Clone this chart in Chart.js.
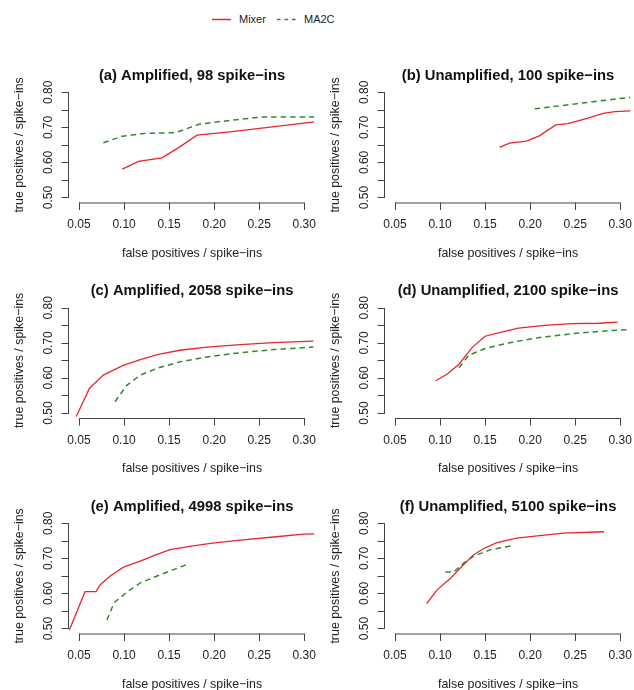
<!DOCTYPE html>
<html>
<head>
<meta charset="utf-8">
<script src="https://cdn.jsdelivr.net/npm/chart.js@4.4.0/dist/chart.umd.min.js"></script>
<style>
  body { margin: 0; background: #fff; }
  #page { position: relative; width: 634px; height: 690px; overflow: hidden;
          font-family: "Liberation Sans", Arial, Helvetica, sans-serif; color: #222; }
  #page canvas { position: absolute; top: 0; }
  .lg { position: absolute; font-size: 11px; line-height: 12px; top: 13px; }
</style>
</head>
<body>
<div id="page">
  <svg style="position:absolute;left:212px;top:17px" width="19" height="5">
    <line x1="0" y1="2.5" x2="19" y2="2.5" stroke="#e8262b" stroke-width="1.5"/>
  </svg>
  <span class="lg" style="left:239px">Mixer</span>
  <svg style="position:absolute;left:277px;top:17px" width="20" height="5">
    <line x1="0" y1="2.5" x2="20" y2="2.5" stroke="#2f8a2f" stroke-width="1.5" stroke-dasharray="3.5 4"/>
  </svg>
  <span class="lg" style="left:304px">MA2C</span>
</div>
<script>
// tick values shared by every panel
const xTicks = [0.05, 0.10, 0.15, 0.20, 0.25, 0.30];
const yTicks = [0.50, 0.55, 0.60, 0.65, 0.70, 0.75, 0.80];
const yTickLabels = [0.50, 0.60, 0.70, 0.80];

const panelTitles = [
  '(a) Amplified, 98 spike\u2212ins',
  '(b) Unamplified, 100 spike\u2212ins',
  '(c) Amplified, 2058 spike\u2212ins',
  '(d) Unamplified, 2100 spike\u2212ins',
  '(e) Amplified, 4998 spike\u2212ins',
  '(f) Unamplified, 5100 spike\u2212ins'
];

// (a)
const fpMixerA = [0.098, 0.116, 0.142, 0.161, 0.181, 0.22, 0.26, 0.311];
const tpMixerA = [0.581, 0.603, 0.613, 0.643, 0.678, 0.688, 0.700, 0.716];
const fpMa2cA = [0.077, 0.098, 0.124, 0.157, 0.167, 0.183, 0.197, 0.254, 0.311];
const tpMa2cA = [0.656, 0.675, 0.683, 0.685, 0.694, 0.709, 0.714, 0.730, 0.730];
// (b)
const fpMixerB = [0.166, 0.177, 0.196, 0.210, 0.2285, 0.242, 0.263, 0.281, 0.294, 0.311];
const tpMixerB = [0.643, 0.655, 0.661, 0.676, 0.707, 0.711, 0.726, 0.740, 0.745, 0.747];
const fpMa2cB = [0.205, 0.25, 0.311];
const tpMa2cB = [0.753, 0.767, 0.786];
// (c)
const fpMixerC = [0.047, 0.0615, 0.077, 0.099, 0.118, 0.138, 0.162, 0.192, 0.229, 0.266, 0.310];
const tpMixerC = [0.490, 0.570, 0.608, 0.636, 0.652, 0.667, 0.679, 0.688, 0.695, 0.701, 0.705];
const fpMa2cC = [0.090, 0.103, 0.118, 0.136, 0.162, 0.192, 0.229, 0.266, 0.310];
const tpMa2cC = [0.532, 0.579, 0.608, 0.627, 0.646, 0.660, 0.672, 0.681, 0.688];
// (d)
const fpMixerD = [0.095, 0.108, 0.121, 0.136, 0.150, 0.168, 0.187, 0.216, 0.246, 0.276, 0.297];
const tpMixerD = [0.592, 0.611, 0.639, 0.688, 0.719, 0.731, 0.742, 0.750, 0.755, 0.756, 0.759];
const fpMa2cD = [0.121, 0.132, 0.150, 0.180, 0.209, 0.246, 0.276, 0.311];
const tpMa2cD = [0.629, 0.665, 0.684, 0.702, 0.715, 0.726, 0.733, 0.738];
// (e)
const fpMixerE = [0.0393, 0.0567, 0.0689, 0.0733, 0.0844, 0.0993, 0.118, 0.133, 0.151, 0.173, 0.196, 0.229, 0.266, 0.299, 0.311];
const tpMixerE = [0.496, 0.605, 0.605, 0.624, 0.649, 0.675, 0.692, 0.708, 0.725, 0.734, 0.743, 0.752, 0.761, 0.769, 0.770];
const fpMa2cE = [0.081, 0.089, 0.096, 0.103, 0.118, 0.136, 0.155, 0.171];
const tpMa2cE = [0.524, 0.574, 0.588, 0.604, 0.630, 0.649, 0.668, 0.684];
// (f)
const fpMixerF = [0.085, 0.097, 0.112, 0.126, 0.137, 0.149, 0.163, 0.185, 0.208, 0.237, 0.282];
const tpMixerF = [0.571, 0.611, 0.644, 0.682, 0.710, 0.729, 0.745, 0.758, 0.764, 0.772, 0.776];
const fpMa2cF = [0.106, 0.115, 0.126, 0.137, 0.156, 0.180];
const tpMa2cF = [0.661, 0.661, 0.686, 0.706, 0.725, 0.736];

const panels = [
  [fpMixerA, tpMixerA, fpMa2cA, tpMa2cA],
  [fpMixerB, tpMixerB, fpMa2cB, tpMa2cB],
  [fpMixerC, tpMixerC, fpMa2cC, tpMa2cC],
  [fpMixerD, tpMixerD, fpMa2cD, tpMa2cD],
  [fpMixerE, tpMixerE, fpMa2cE, tpMa2cE],
  [fpMixerF, tpMixerF, fpMa2cF, tpMa2cF]
];

const RED = '#e8262b';
const GREEN = '#2f8a2f';
const AXIS = '#444';
const FONT = '"Liberation Sans", Arial, Helvetica, sans-serif';
const rowOffset = [0, 215.5, 431];
const colLeft = [0, 316];

function pts(xs, ys) {
  return xs.map((v, i) => ({ x: v, y: ys[i] }));
}

// R style axes: line only from first to last tick, ticks pointing out
const rAxes = {
  id: 'rAxes',
  afterDraw(chart) {
    const { ctx, chartArea } = chart;
    const x = chart.scales.x, y = chart.scales.y;
    const bottom = chartArea.bottom, left = chartArea.left;
    ctx.save();
    ctx.strokeStyle = AXIS;
    ctx.lineWidth = 1;
    ctx.beginPath();
    const xa = x.getPixelForValue(xTicks[0]);
    const xb = x.getPixelForValue(xTicks[xTicks.length - 1]);
    ctx.moveTo(xa, bottom + 0.5);
    ctx.lineTo(xb, bottom + 0.5);
    xTicks.forEach(v => {
      const px = Math.round(x.getPixelForValue(v)) + 0.5;
      ctx.moveTo(px, bottom);
      ctx.lineTo(px, bottom + 7.5);
    });
    const ya = y.getPixelForValue(yTicks[0]);
    const yb = y.getPixelForValue(yTicks[yTicks.length - 1]);
    ctx.moveTo(left - 0.5, ya);
    ctx.lineTo(left - 0.5, yb);
    yTicks.forEach(v => {
      const py = Math.round(y.getPixelForValue(v)) + 0.5;
      ctx.moveTo(left, py);
      ctx.lineTo(left - 7.5, py);
    });
    ctx.stroke();

    ctx.fillStyle = '#222';
    ctx.font = '12px ' + FONT;
    ctx.textAlign = 'center';
    ctx.textBaseline = 'middle';
    xTicks.forEach(v => {
      ctx.fillText(v.toFixed(2), x.getPixelForValue(v), bottom + 22.5);
    });
    ctx.font = '12.4px ' + FONT;
    ctx.fillText('false positives / spike\u2212ins', (chartArea.left + chartArea.right) / 2, bottom + 51);

    ctx.font = '12px ' + FONT;
    yTickLabels.forEach(v => {
      ctx.save();
      ctx.translate(left - 20.7, y.getPixelForValue(v));
      ctx.rotate(-Math.PI / 2);
      ctx.fillText(v.toFixed(2), 0, 0);
      ctx.restore();
    });
    ctx.save();
    ctx.font = '12.4px ' + FONT;
    ctx.translate(20, y.getPixelForValue(0.65));
    ctx.rotate(-Math.PI / 2);
    ctx.fillText('true positives / spike\u2212ins', 0, 0);
    ctx.restore();
    ctx.restore();
  }
};

const page = document.getElementById('page');
panels.forEach((p, i) => {
  const r = Math.floor(i / 2), c = i % 2;
  const R = rowOffset[r];
  const cv = document.createElement('canvas');
  cv.width = 317;
  cv.height = 690;
  cv.style.left = colLeft[c] + 'px';
  page.appendChild(cv);
  new Chart(cv, {
    type: 'line',
    data: {
      datasets: [
        { label: 'Mixer', data: pts(p[0], p[1]), borderColor: RED, borderWidth: 1.3,
          pointRadius: 0, tension: 0, clip: false, fill: false },
        { label: 'MA2C', data: pts(p[2], p[3]), borderColor: GREEN, borderWidth: 1.5,
          borderDash: [5.5, 4], pointRadius: 0, tension: 0, clip: false, fill: false }
      ]
    },
    options: {
      responsive: false,
      animation: false,
      events: [],
      layout: { padding: { left: 69, right: 317 - 315.1, top: 56.6 + R, bottom: 690 - (202.5 + R) } },
      scales: {
        x: { type: 'linear', min: 0.0389, max: 0.312, display: false },
        y: { type: 'linear', min: 0.4857, max: 0.8228, display: false }
      },
      plugins: {
        legend: { display: false },
        tooltip: { enabled: false },
        title: {
          display: true,
          text: panelTitles[i],
          color: '#111',
          font: { family: FONT, size: 14.8, weight: 'bold', lineHeight: 1.2 },
          padding: { top: 10, bottom: 0 }
        }
      }
    },
    plugins: [rAxes]
  });
});
</script>
</body>
</html>
